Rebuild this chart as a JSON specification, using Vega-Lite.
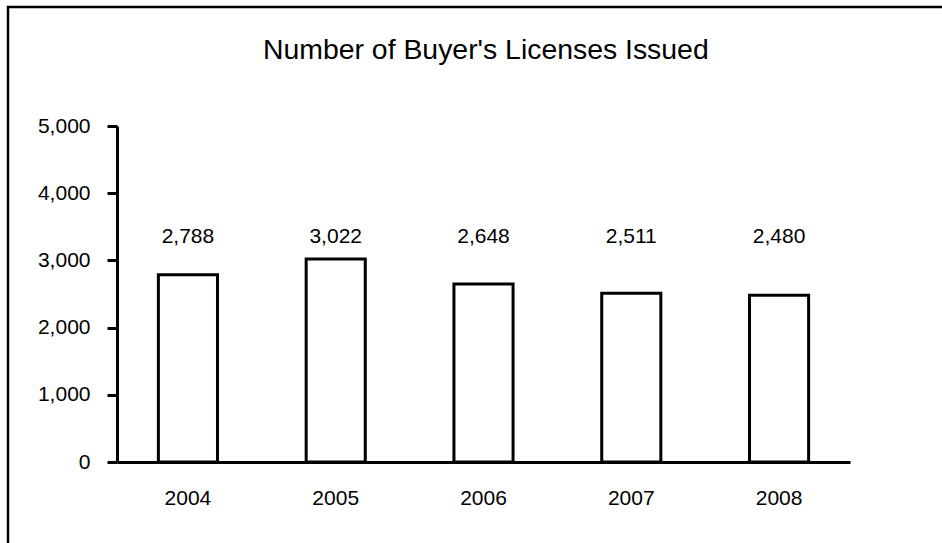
{
  "$schema": "https://vega.github.io/schema/vega-lite/v6.json",
  "autosize": "none",
  "width": 960,
  "height": 560,
  "padding": {"left": 8, "top": 7, "right": -26, "bottom": -24},
  "background": "white",
  "title": {
    "text": "Number of Buyer's Licenses Issued",
    "fontSize": 28.4,
    "fontWeight": "normal",
    "font": "Liberation Sans",
    "color": "black",
    "anchor": "start",
    "offset": -58,
    "dx": 255
  },
  "config": {
    "view": {"stroke": "black", "strokeWidth": 2.5},
    "font": "Liberation Sans"
  },
  "data": {
    "values": [
      {"year": "2004", "count": 2788},
      {"year": "2005", "count": 3022},
      {"year": "2006", "count": 2648},
      {"year": "2007", "count": 2511},
      {"year": "2008", "count": 2480}
    ]
  },
  "encoding": {
    "x": {
      "field": "year",
      "type": "ordinal",
      "scale": {"range": [109, 842], "paddingInner": 0.6, "paddingOuter": 0.28},
      "axis": {
        "title": null,
        "labelAngle": 0,
        "labelFontSize": 21,
        "labelColor": "black",
        "labelPadding": 25,
        "ticks": false,
        "domainColor": "black",
        "domainWidth": 3,
        "offset": -105
      }
    }
  },
  "layer": [
    {
      "mark": {"type": "bar", "fill": "white", "stroke": "black", "strokeWidth": 3},
      "encoding": {
        "y": {
          "field": "count",
          "type": "quantitative",
          "scale": {"domain": [0, 5000], "range": [455, 119], "nice": false},
          "axis": {
            "title": null,
            "values": [0, 1000, 2000, 3000, 4000, 5000],
            "labelExpr": "format(datum.value, ',')",
            "grid": false,
            "labelFontSize": 21,
            "labelColor": "black",
            "labelPadding": 17,
            "tickSize": 10,
            "tickWidth": 3,
            "tickColor": "black",
            "domainColor": "black",
            "domainWidth": 3,
            "offset": -109
          }
        }
      }
    },
    {
      "mark": {"type": "text", "fontSize": 21, "color": "black"},
      "encoding": {
        "y": {"datum": 3350, "type": "quantitative"},
        "text": {"field": "count", "type": "quantitative", "format": ","}
      }
    }
  ]
}
